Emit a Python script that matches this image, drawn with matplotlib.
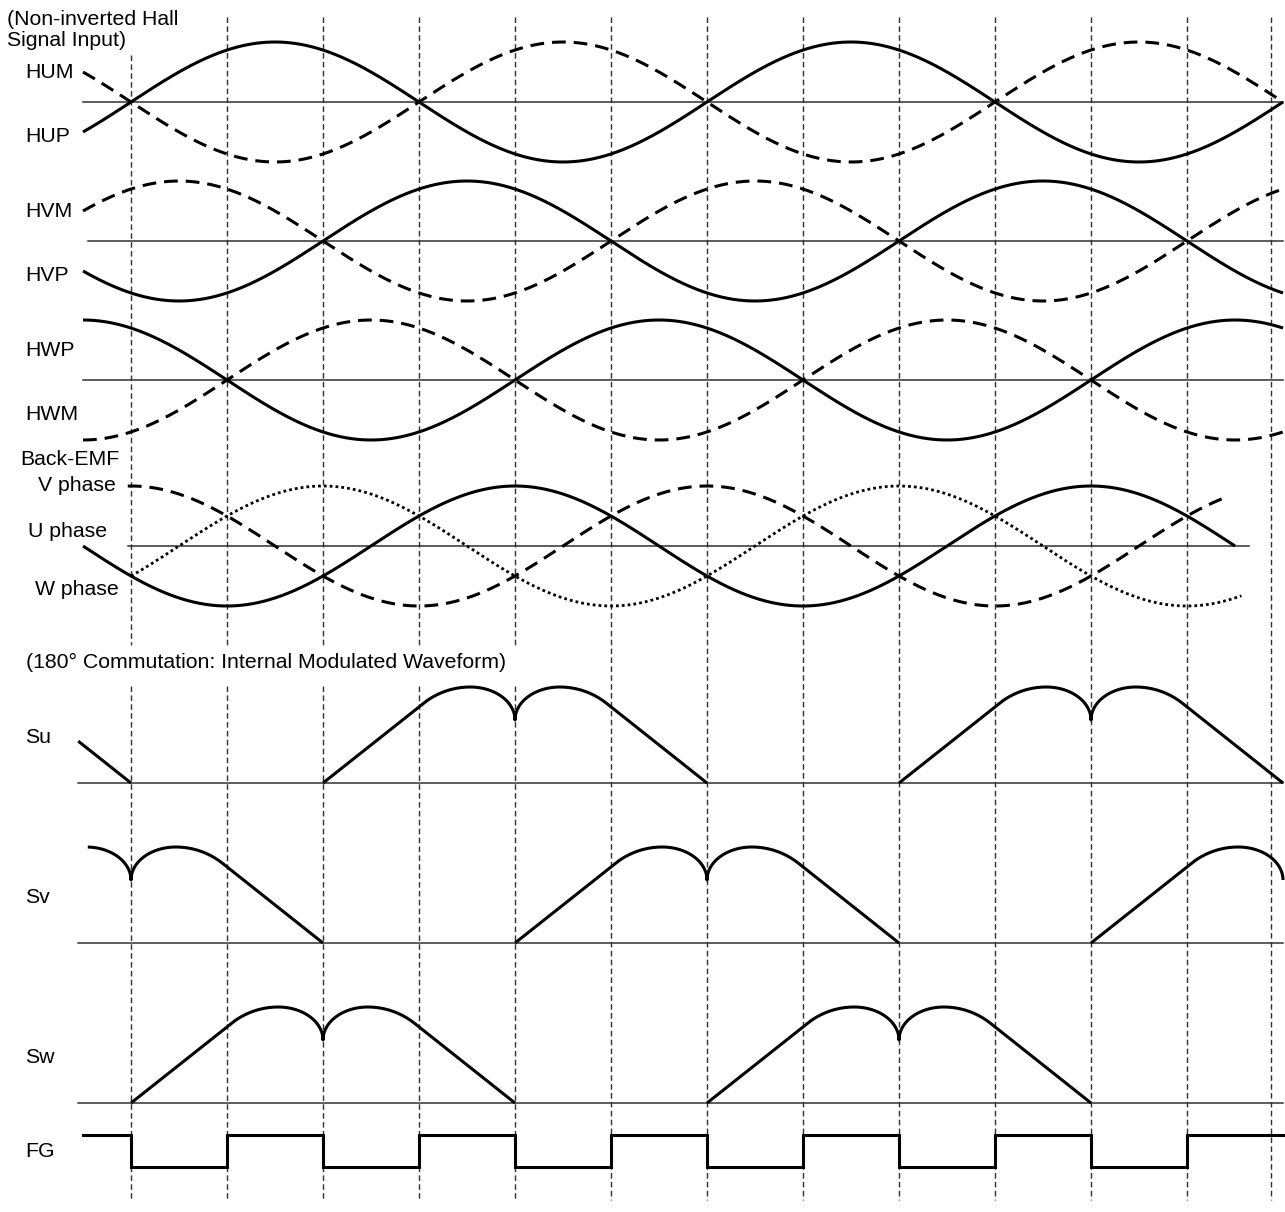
import matplotlib.pyplot as plt
import numpy as np

plt.rcParams['font.family'] = ['Liberation Sans', 'DejaVu Sans']

# commutation grid lines, electrical degrees
grid_deg = [0, 60, 120, 180, 240, 300, 360, 420, 480, 540, 600, 660, 712.5]

# hall inputs: (upper label, lower label) and phase of the P signal
hall_labels = [("HUM", "HUP"), ("HVM", "HVP"), ("HWP", "HWM")]
hall_phase = [0, 120, 240]
hall_span = (-30, 720)

# back-EMF phases
emf_names = ["U phase", "V phase", "W phase"]
emf_phase = [150, 270, 30]
emf_start = [-30, -2, 0]
emf_end = [690, 686, 694]

# 180 deg commutation outputs: angle where each pulse starts rising
mod_names = ["Su", "Sv", "Sw"]
mod_rise = [[-240, 120, 480], [-120, 240, 600], [0, 360]]
mod_start = [-33, -27, -33]

# FG output
fg_edges = [-30, 0, 60, 120, 180, 240, 300, 360, 420, 480, 540, 600, 660, 720]
fg_level = [1, 0, 1, 0, 1, 0, 1, 0, 1, 0, 1, 0, 1]

# layout (pixels)
X0, K = 131, 1.6          # x of 0 deg, pixels per degree
AMP = 60                  # sine amplitude
MOD_AMP = 96              # modulated pulse peak
hall_base = [102, 241, 380]
hall_line_x0 = [83, 88, 83]
emf_base = 546
mod_base = [783, 943, 1103]
fg_hi, fg_lo = 1135, 1167

SOLID = dict(color='black', lw=2.2, solid_capstyle='butt')
DASH = dict(color='black', lw=2.2, ls=(0, (4.5, 2.6)))
DOT = dict(color='black', lw=2.0, ls=(0, (1, 1.1)))
BASE = dict(color='#303030', lw=1.1)
GRID = dict(color='#303030', lw=1.0, ls=(0, (4, 2.4)))
FONT = dict(fontsize=15.3, va='baseline', ha='left')


def xpos(deg):
    return X0 + K * np.asarray(deg, dtype=float)


def bump(psi):
    # one 240 deg pulse of the modulated output, peak = 1
    psi = np.minimum(psi, 240 - psi)
    pk, cusp = 92.0, 63 / 96
    ra, rb = 46.9, 75 / 96
    cy = 1 - rb
    u0, v0 = -pk / ra, -cy / rb
    t1 = np.arctan2(v0, u0) % (2 * np.pi) - np.arccos(1 / np.hypot(u0, v0))
    pj, hj = pk + ra * np.cos(t1), cy + rb * np.sin(t1)
    left = cy + rb * np.sqrt(np.clip(1 - ((psi - pk) / ra) ** 2, 0, None))
    right = cusp + (1 - cusp) * np.sqrt(np.clip(1 - ((psi - pk) / (120 - pk)) ** 2, 0, None))
    return np.where(psi < pj, psi * hj / pj, np.where(psi < pk, left, right))


fig = plt.figure(figsize=(12.85, 12.12), dpi=100)
ax = fig.add_axes([0, 0, 1, 1])
ax.set_xlim(0, 1285)
ax.set_ylim(1212, 0)
ax.axis('off')

# grid lines, broken under the commutation caption
for g in grid_deg:
    x = xpos(g)
    top = 55 if g == 0 else 17
    if g <= 240:
        ax.plot([x, x], [top, 645], **GRID)
        ax.plot([x, x], [686, 1200], **GRID)
    else:
        ax.plot([x, x], [top, 1200], **GRID)

# hall inputs
th = np.linspace(*hall_span, 3000)
for base, x0, ph, (lab_top, lab_bot) in zip(hall_base, hall_line_x0, hall_phase, hall_labels):
    ax.plot([x0, xpos(720)], [base, base], **BASE)
    p = np.sin(np.radians(th - ph))
    ax.plot(xpos(th), base - AMP * p, **SOLID)
    ax.plot(xpos(th), base + AMP * p, **DASH)
    ax.text(25, base - 24, lab_top, **FONT)
    ax.text(25, base + 40, lab_bot, **FONT)

ax.text(7, 25, "(Non-inverted Hall", **FONT)
ax.text(7, 46, "Signal Input)", **FONT)

# back-EMF
ax.plot([128, 1249], [emf_base, emf_base], **BASE)
for name, ph, a, b, st in zip(emf_names, emf_phase, emf_start, emf_end, [SOLID, DASH, DOT]):
    t = np.linspace(a, b, 2000)
    ax.plot(xpos(t), emf_base - AMP * np.sin(np.radians(t - ph)), **st)
ax.text(20, 465, "Back-EMF", **FONT)
ax.text(38, 491, "V phase", **FONT)
ax.text(28, 537, "U phase", **FONT)
ax.text(35, 595, "W phase", **FONT)

ax.text(26, 668, "(180\u00b0 Commutation: Internal Modulated Waveform)", **FONT)

# modulated outputs
for name, base, rises, start in zip(mod_names, mod_base, mod_rise, mod_start):
    ax.plot([78, xpos(720)], [base, base], **BASE)
    for r in rises:
        a, b = max(r, start), min(r + 240, 720)
        t = np.union1d(np.linspace(a, b, 6000), [r + 120] if a < r + 120 < b else [])
        ax.plot(xpos(t), base - MOD_AMP * bump(t - r), **SOLID)
    ax.text(25, base - 40, name, **FONT)

# FG
fx, fy = [], []
for i, lv in enumerate(fg_level):
    y = fg_hi if lv else fg_lo
    fx += [xpos(fg_edges[i]), xpos(fg_edges[i + 1])]
    fy += [y, y]
ax.plot(fx, fy, color='black', lw=2.2, solid_joinstyle='miter')
ax.text(25, 1157, "FG", **FONT)

fig.savefig("out.png", dpi=100)
